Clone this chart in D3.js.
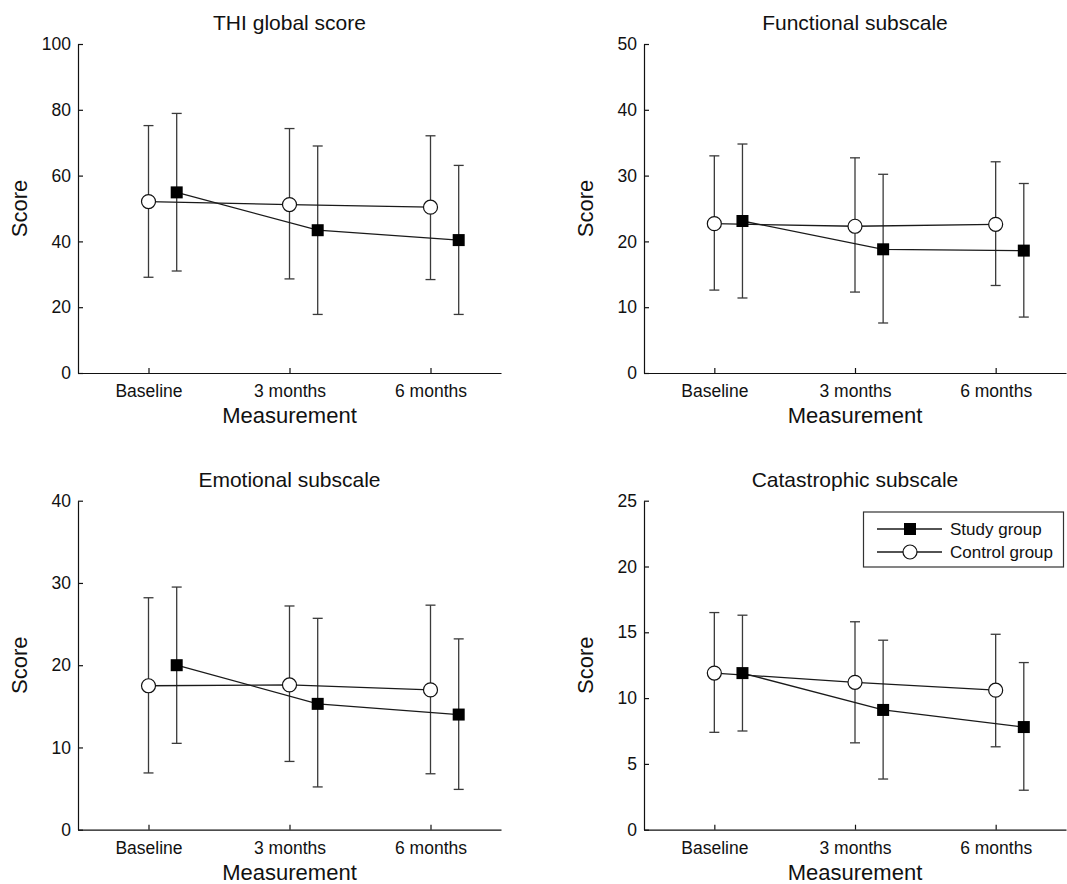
<!DOCTYPE html>
<html>
<head>
<meta charset="utf-8">
<script src="https://cdn.jsdelivr.net/npm/d3@7"></script>
<style>
  html, body { margin: 0; padding: 0; background: #fff; }
  svg { display: block; font-family: "Liberation Sans", Arial, sans-serif; }
</style>
</head>
<body>
<svg id="chart" width="1067" height="884"></svg>
<script>
// ---- Data ----
const categories = ["Baseline", "3 months", "6 months"];
const panelTitles = ["THI global score", "Functional subscale", "Emotional subscale", "Catastrophic subscale"];
const yMaxes = [100, 50, 40, 25];
const yTickSteps = [20, 10, 10, 5];

const thiStudy = [54.9, 43.4, 40.4];
const thiStudyLow = [31.0, 17.8, 17.8];
const thiStudyHigh = [78.9, 69.0, 63.1];
const thiControl = [52.1, 51.2, 50.4];
const thiControlLow = [29.1, 28.6, 28.4];
const thiControlHigh = [75.2, 74.3, 72.1];

const funcStudy = [23.1, 18.8, 18.6];
const funcStudyLow = [11.4, 7.6, 8.5];
const funcStudyHigh = [34.8, 30.2, 28.8];
const funcControl = [22.7, 22.3, 22.6];
const funcControlLow = [12.6, 12.3, 13.3];
const funcControlHigh = [33.0, 32.7, 32.1];

const emoStudy = [20.0, 15.3, 14.0];
const emoStudyLow = [10.5, 5.2, 4.9];
const emoStudyHigh = [29.5, 25.7, 23.2];
const emoControl = [17.5, 17.6, 17.0];
const emoControlLow = [6.9, 8.3, 6.8];
const emoControlHigh = [28.2, 27.2, 27.3];

const catStudy = [11.9, 9.1, 7.8];
const catStudyLow = [7.5, 3.85, 3.0];
const catStudyHigh = [16.3, 14.4, 12.7];
const catControl = [11.9, 11.2, 10.6];
const catControlLow = [7.4, 6.6, 6.3];
const catControlHigh = [16.5, 15.8, 14.85];

const seriesNames = ["Study group", "Control group"];
const studyOffset = 0.2; // study group drawn slightly right of each category

// ---- Layout ----
const panels = [
  { x0: 78, x1: 501, y0: 44, y1: 373,
    study: [thiStudy, thiStudyLow, thiStudyHigh], control: [thiControl, thiControlLow, thiControlHigh] },
  { x0: 644, x1: 1066, y0: 44, y1: 373,
    study: [funcStudy, funcStudyLow, funcStudyHigh], control: [funcControl, funcControlLow, funcControlHigh] },
  { x0: 78, x1: 501, y0: 500.7, y1: 829.7,
    study: [emoStudy, emoStudyLow, emoStudyHigh], control: [emoControl, emoControlLow, emoControlHigh] },
  { x0: 644, x1: 1066, y0: 500.7, y1: 829.7,
    study: [catStudy, catStudyLow, catStudyHigh], control: [catControl, catControlLow, catControlHigh] }
];

const svg = d3.select("#chart");
const lineCol = "#1a1a1a";
const errCol = "#3a3a3a";

panels.forEach((p, i) => {
  const g = svg.append("g");
  const x = d3.scaleLinear().domain([0.5, 3.5]).range([p.x0, p.x1]);
  const y = d3.scaleLinear().domain([0, yMaxes[i]]).range([p.y1, p.y0]);
  const ticks = d3.range(0, yMaxes[i] + 1e-9, yTickSteps[i]);

  // axes
  const xAxis = d3.axisBottom(x).tickValues([1, 2, 3])
    .tickFormat((d) => categories[d - 1]).tickSizeInner(-5).tickSizeOuter(0).tickPadding(12);
  const yAxis = d3.axisLeft(y).tickValues(ticks).tickFormat(d3.format("d"))
    .tickSizeInner(-5).tickSizeOuter(0).tickPadding(7);

  const gx = g.append("g").attr("transform", `translate(0,${p.y1})`).call(xAxis);
  const gy = g.append("g").attr("transform", `translate(${p.x0},0)`).call(yAxis);
  [gx, gy].forEach(a => {
    a.selectAll("path,line").attr("stroke", "#111").attr("stroke-width", 1.2);
    a.selectAll("text").attr("fill", "#111").style("font-size", "17.5px")
      .style("font-family", "'Liberation Sans', Arial, sans-serif");
  });

  // title
  g.append("text").attr("x", (p.x0 + p.x1) / 2).attr("y", p.y0 - 14)
    .attr("text-anchor", "middle").style("font-size", "21px").attr("fill", "#111")
    .text(panelTitles[i]);
  // x label
  g.append("text").attr("x", (p.x0 + p.x1) / 2).attr("y", p.y1 + 50)
    .attr("text-anchor", "middle").style("font-size", "22px").attr("fill", "#111")
    .text("Measurement");
  // y label
  g.append("text").attr("transform", `translate(${p.x0 - 51},${(p.y0 + p.y1) / 2}) rotate(-90)`)
    .attr("text-anchor", "middle").style("font-size", "22px").attr("fill", "#111")
    .text("Score");

  const groups = [
    { vals: p.control, off: 0, type: "circle" },
    { vals: p.study, off: studyOffset, type: "square" }
  ];

  // error bars
  groups.forEach(s => {
    const [m, lo, hi] = s.vals;
    m.forEach((v, k) => {
      const cx = x(k + 1 + s.off);
      g.append("line").attr("x1", cx).attr("x2", cx).attr("y1", y(lo[k])).attr("y2", y(hi[k]))
        .attr("stroke", errCol).attr("stroke-width", 1.3);
      [lo[k], hi[k]].forEach(e => {
        g.append("line").attr("x1", cx - 5).attr("x2", cx + 5).attr("y1", y(e)).attr("y2", y(e))
          .attr("stroke", errCol).attr("stroke-width", 1.3);
      });
    });
  });

  // lines
  const line = d3.line();
  groups.slice().reverse().forEach(s => {
    const pts = s.vals[0].map((v, k) => [x(k + 1 + s.off), y(v)]);
    g.append("path").attr("d", line(pts)).attr("fill", "none")
      .attr("stroke", lineCol).attr("stroke-width", 1.3);
  });

  // markers
  groups.forEach(s => {
    s.vals[0].forEach((v, k) => {
      const cx = x(k + 1 + s.off), cy = y(v);
      if (s.type === "circle") {
        g.append("circle").attr("cx", cx).attr("cy", cy).attr("r", 7)
          .attr("fill", "#fff").attr("stroke", "#111").attr("stroke-width", 1.2);
      } else {
        g.append("rect").attr("x", cx - 6).attr("y", cy - 6).attr("width", 12).attr("height", 12)
          .attr("fill", "#000");
      }
    });
  });
});

// ---- Legend (in the Catastrophic panel) ----
const lg = svg.append("g");
lg.append("rect").attr("x", 863.5).attr("y", 512).attr("width", 200).attr("height", 55)
  .attr("fill", "#fff").attr("stroke", "#333").attr("stroke-width", 1.2);
seriesNames.forEach((name, i) => {
  const cy = 529 + i * 23;
  lg.append("line").attr("x1", 877).attr("x2", 942).attr("y1", cy).attr("y2", cy)
    .attr("stroke", lineCol).attr("stroke-width", 1.3);
  if (i === 0) {
    lg.append("rect").attr("x", 904).attr("y", cy - 6).attr("width", 12).attr("height", 12).attr("fill", "#000");
  } else {
    lg.append("circle").attr("cx", 910).attr("cy", cy).attr("r", 7)
      .attr("fill", "#fff").attr("stroke", "#111").attr("stroke-width", 1.2);
  }
  lg.append("text").attr("x", 950).attr("y", cy).attr("dy", "0.35em")
    .style("font-size", "17px").attr("fill", "#111").text(name);
});
</script>
</body>
</html>
